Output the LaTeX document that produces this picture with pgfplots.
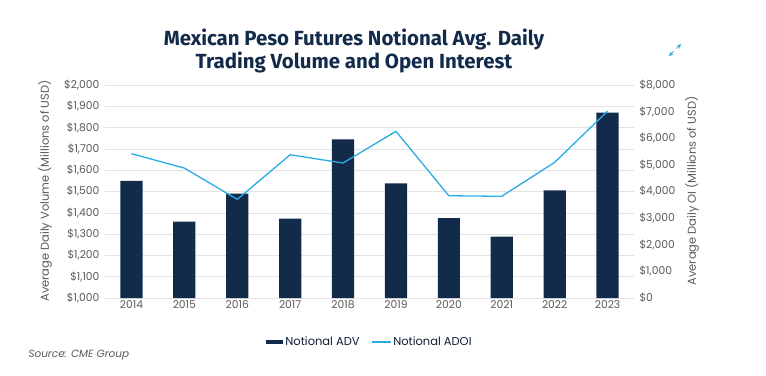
\documentclass[border=0pt]{standalone}
\usepackage{pgfplots}
\pgfplotsset{compat=1.18}
\usepackage{fontspec}
\setmainfont{Poppins}
\newfontfamily\titlefont{Fira Sans}
\definecolor{navy}{HTML}{132B4B}
\definecolor{lblue}{HTML}{2AACE3}
\definecolor{tickgray}{HTML}{5A5A5A}
\definecolor{gridgray}{HTML}{E3E3E3}
\begin{document}
\begin{tikzpicture}[x=1bp,y=1bp]
\path[use as bounding box,fill=white] (0,0) rectangle (766,375);
\node[font=\titlefont\bfseries\fontsize{20.5}{23}\selectfont, text=navy, align=center] at (354,324) {Mexican Peso Futures Notional Avg. Daily\\Trading Volume and Open Interest};
% expand icon
\draw[lblue, line width=0.9pt, ->, >=stealth] (676.5,326.5) -- (681,331);
\draw[lblue, line width=0.9pt, ->, >=stealth] (673.5,323.5) -- (669,319);
\begin{axis}[
  at={(105bp,77bp)}, anchor=south west,
  scale only axis, width=529bp, height=213bp,
  xmin=-0.5, xmax=9.5, ymin=1000, ymax=2000,
  ytick={1000,1100,...,2000},
  xtick={0,...,9},
  xticklabels={2014,2015,2016,2017,2018,2019,2020,2021,2022,2023},
  axis line style={draw=none},
  tick style={draw=none},
  ymajorgrids, grid style={gridgray, line width=0.6pt},
  yticklabel={\$\pgfmathprintnumber{\tick}},
  /pgf/number format/.cd, 1000 sep={,}, assume math mode=true, /pgfplots/.cd,
  ticklabel style={font=\fontsize{10.8}{12}\selectfont, text=tickgray},
  yticklabel style={xshift=-2bp},
  xticklabel style={yshift=1bp},
  legend style={at={(265bp,-44bp)}, anchor=center, draw=none, fill=none, legend columns=2,
    font=\fontsize{11.5}{13}\selectfont\color{navy!70!black}, /tikz/every even column/.append style={column sep=10bp}},
  legend image code/.code={\fill[navy] (0cm,-0.08cm) rectangle (0.6cm,0.08cm);},
]
\addplot[ybar, bar width=0.42, fill=navy, draw=none] coordinates {
(0,1550) (1,1358) (2,1490) (3,1373) (4,1745) (5,1538) (6,1375) (7,1288) (8,1505) (9,1870)};
\addlegendentry{Notional ADV}
\addlegendimage{legend image code/.code={\draw[lblue, line width=1.2pt] (0cm,0cm) -- (0.65cm,0cm);}}
\addlegendentry{Notional ADOI}
\end{axis}
\begin{axis}[
  at={(105bp,77bp)}, anchor=south west,
  scale only axis, width=529bp, height=213bp,
  xmin=-0.5, xmax=9.5, ymin=0, ymax=8000,
  ytick={0,1000,...,8000},
  axis x line=none,
  axis y line*=right,
  axis line style={draw=none},
  tick style={draw=none},
  yticklabel={\$\pgfmathprintnumber{\tick}},
  /pgf/number format/.cd, 1000 sep={,}, assume math mode=true, /pgfplots/.cd,
  ticklabel style={font=\fontsize{10.8}{12}\selectfont, text=tickgray},
  yticklabel style={xshift=2bp},
]
\addplot[lblue, line width=1.3pt, mark=none] coordinates {
(0,5420) (1,4880) (2,3705) (3,5380) (4,5070) (5,6260) (6,3840) (7,3820) (8,5095) (9,7020)};
\end{axis}
\node[rotate=90, font=\fontsize{11.5}{13}\selectfont, text=tickgray] at (45,184) {Average Daily Volume (Millions of USD)};
\node[rotate=90, font=\fontsize{11.5}{13}\selectfont, text=tickgray] at (692,184) {Average Daily OI (Millions of USD)};
\node[anchor=west, font=\itshape\fontsize{10.5}{12}\selectfont, text=tickgray] at (25,20) {Source: CME Group};
\end{tikzpicture}
\end{document}
